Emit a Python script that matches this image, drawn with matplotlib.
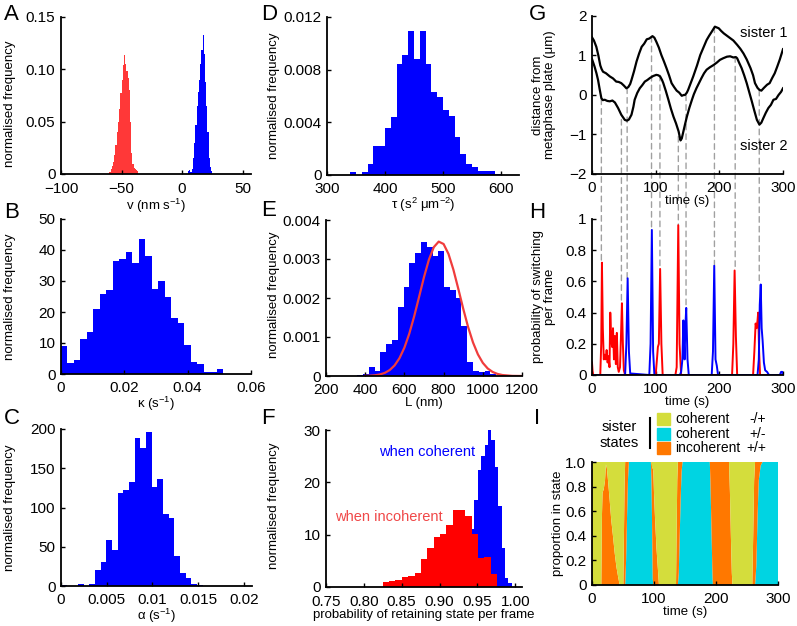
import numpy as np
import matplotlib
matplotlib.use("Agg")
import matplotlib.pyplot as plt
from matplotlib.patches import Rectangle, ConnectionPatch
from matplotlib.lines import Line2D

plt.rcParams["font.family"] = "Liberation Sans"
plt.rcParams["mathtext.fontset"] = "custom"
plt.rcParams["mathtext.rm"] = "Liberation Sans"
plt.rcParams["mathtext.it"] = "Liberation Sans:italic"
plt.rcParams["axes.linewidth"] = 1.3

# ---------------- data ----------------
# A: velocity histograms (bin width 1 nm/s)
v_red_start = -60
v_red = [0.002, 0.005, 0.008, 0.011, 0.018, 0.028, 0.04, 0.05, 0.062, 0.077, 0.09, 0.104,
         0.114, 0.105, 0.098, 0.092, 0.08, 0.05, 0.02, 0.01, 0.006, 0.005, 0.004, 0.003]
v_blue_start = 5
v_blue = [0.003, 0.004, 0.002, 0.005, 0.015, 0.03, 0.047, 0.065, 0.078, 0.09, 0.105, 0.118,
          0.133, 0.115, 0.088, 0.065, 0.04, 0.015, 0.007, 0.003]
v_bin = 1.0

# B: kappa
kappa_bin = 0.00205
kappa = [9, 3.5, 4.6, 11.3, 13.5, 21, 25.8, 27, 36.5, 37, 39.3, 35.7, 43.5, 38, 27.4, 30,
         24.7, 18, 16.4, 9.4, 4, 3.2, 0.6, 0.6, 1.7]

# C: alpha
alpha_bin = 0.00062
alpha = [1, 0, 0.5, 3, 0.5, 2, 21, 31, 59, 46, 118, 122, 132, 189, 176, 196, 126, 136, 92, 87,
         38, 17, 10, 3, 1]

# D: tau
tau_start = 340
tau_bin = 10
tau = [0.0002, 0, 0.0002, 0.0008, 0.0022, 0.0022, 0.0036, 0.0044, 0.0084, 0.0091, 0.0109,
       0.0088, 0.0109, 0.0084, 0.0063, 0.0059, 0.0049, 0.0045, 0.0029, 0.0016, 0.0008, 0.0006,
       0.0003, 0.0003, 0.0003, 0.0001]

# E: L histogram + normal fit
L_start = 360
L_bin = 29.5
L_hist = [0.00003, 0.00005, 0.00022, 0.00014, 0.00062, 0.00081, 0.00092, 0.00176, 0.00227,
          0.00289, 0.00316, 0.00344, 0.00332, 0.00308, 0.0032, 0.00227, 0.0022, 0.00199,
          0.00128, 0.00037, 0.00014, 0.00011, 0.00014, 0.00005]
L_fit_x = [400, 425, 450, 475, 500, 525, 550, 575, 600, 625, 650, 675, 700, 725, 750, 775, 800,
           825, 850, 875, 900, 925, 950, 975, 1000, 1025, 1050, 1075, 1100, 1150, 1200]
L_fit_y = [0.000003, 0.000008, 0.0000185, 0.00004, 0.00008, 0.000152, 0.000272, 0.000458,
           0.000727, 0.001087, 0.001532, 0.002031, 0.002536, 0.002983, 0.003304, 0.003446,
           0.003384, 0.00313, 0.002726, 0.002236, 0.001727, 0.001256, 0.00086, 0.000555,
           0.000337, 0.000193, 0.000104, 0.000053, 0.000025, 0.000003, 0.0]

# F: probability of retaining state
inc_start = 0.825
inc_bin = 0.0084
incoherent = [1.0, 1.2, 1.4, 1.9, 2.1, 2.7, 5.3, 7.4, 9.6, 10.2, 11.8, 14.7, 14.7, 13.6, 10.2,
              5.5, 5.8, 2.4]
coh_start = 0.937
coh_bin = 0.0045
coherent = [6, 11, 16.6, 22.4, 25, 27.1, 30, 28, 23, 15.4, 7.4, 1.7, 0.7]

# G: sister trajectories
s1_t = [0, 3, 6.8, 10, 13, 15, 17.3, 22, 28, 33, 38, 42, 46, 50, 54, 57, 60, 62, 66, 70, 74,
        78, 82, 86, 90, 95, 98, 101, 105, 109, 113, 117, 121, 125, 129, 133, 137, 141, 144,
        146, 149, 151, 155, 159, 165, 170, 175, 180, 184, 188, 193, 196, 199, 203, 207, 212,
        217, 222, 228, 233, 238, 243, 249, 253, 256, 260, 263, 266, 270, 275, 279, 283, 287,
        291, 295, 300]
s1_x = [1.46, 1.38, 1.22, 1.0, 0.75, 0.66, 0.59, 0.55, 0.47, 0.42, 0.34, 0.33, 0.30, 0.24,
        0.17, 0.2, 0.28, 0.38, 0.6, 0.85, 1.05, 1.22, 1.3, 1.41, 1.43, 1.49, 1.45, 1.35, 1.2,
        1.01, 0.85, 0.68, 0.5, 0.30, 0.2, 0.11, 0.06, -0.02, 0.0, 0.0, 0.06, 0.13, 0.3, 0.47,
        0.75, 1.01, 1.2, 1.39, 1.5, 1.6, 1.73, 1.71, 1.69, 1.62, 1.56, 1.5, 1.44, 1.38, 1.27,
        1.17, 1.05, 0.9, 0.68, 0.5, 0.3, 0.18, 0.13, 0.11, 0.18, 0.26, 0.3, 0.43, 0.55, 0.72,
        0.9, 1.16]
s2_t = [0, 4, 7, 9.5, 12, 14.7, 17, 20, 24, 28, 32, 36, 41, 46, 51.5, 55, 58, 62, 65, 67, 71,
        75, 79, 83, 87, 91, 96, 101, 104, 107, 110, 112, 116, 120, 124, 128, 132, 136, 139,
        141, 143, 146, 149, 153, 157, 160, 164, 168, 172, 176, 180, 185, 191, 196, 201, 206,
        212, 217, 222, 226, 228, 231, 235, 239, 243, 247, 251, 255, 259, 263, 266, 269, 273,
        277, 281, 285, 289, 293, 297, 300]
s2_x = [0.91, 0.72, 0.55, 0.38, 0.15, -0.08, -0.13, -0.12, -0.15, -0.16, -0.14, -0.19, -0.33,
        -0.5, -0.63, -0.65, -0.62, -0.5, -0.3, -0.12, 0.05, 0.17, 0.25, 0.34, 0.38, 0.43, 0.48,
        0.51, 0.5, 0.47, 0.38, 0.30, 0.1, -0.12, -0.35, -0.55, -0.72, -0.92, -1.15, -1.1,
        -0.96, -0.75, -0.55, -0.32, -0.12, 0.02, 0.17, 0.3, 0.43, 0.55, 0.64, 0.7, 0.76, 0.82,
        0.89, 0.93, 0.97, 0.98, 0.95, 0.96, 0.93, 0.82, 0.68, 0.5, 0.3, 0.07, -0.16, -0.4,
        -0.63, -0.75, -0.7, -0.59, -0.45, -0.33, -0.25, -0.12, -0.1, 0.0, 0.08, 0.17]

# switching events: time, start on trace (G units), end on peak (H units)
sw_t = [14.7, 46.2, 55.2, 93.5, 106.7, 135.6, 147.7, 192.3, 224.9, 262.7]
sw_top = [-0.1, -0.62, 0.18, 1.48, 0.5, -1.05, 0.0, 1.72, 0.97, 0.12]
sw_bot = [0.72, 0.46, 0.62, 0.93, 0.68, 0.96, 0.43, 0.70, 0.67, 0.58]

# H: switching probabilities
red_t = [0, 1, 2, 13, 14.5, 15.6, 17, 18.5, 20, 21.5, 23, 24.5, 26, 27.5, 28.7, 30, 31.5, 33,
         34.5, 36, 37.5, 39, 40.5, 42, 44, 45.5, 47, 48.5, 50, 52, 100, 102, 103.5, 105, 107,
         109, 111, 131, 133, 135.5, 137.5, 140, 220, 222, 224, 226, 228, 253, 255, 257, 258.5,
         260, 261, 262.5, 264, 300]
red_p = [0.08, 0.02, 0, 0, 0.2, 0.72, 0.3, 0.1, 0.13, 0.1, 0.16, 0.08, 0.12, 0.05, 0.4, 0.25,
         0.18, 0.3, 0.1, 0.25, 0.07, 0.27, 0.05, 0.02, 0.05, 0.25, 0.46, 0.2, 0.03, 0, 0, 0.1,
         0.18, 0.2, 0.68, 0.2, 0, 0, 0.05, 0.96, 0.2, 0, 0, 0.2, 0.67, 0.25, 0, 0, 0.15, 0.33,
         0.3, 0.35, 0.4, 0.15, 0, 0]
blue_t = [0, 52, 54, 56, 58, 60, 90, 92, 94, 96, 98, 138, 140, 142, 143.5, 144.5, 145.5, 146.5,
          148, 150, 152, 188, 190, 192, 194, 196, 198, 260, 262, 263.5, 265, 266.5, 268, 270,
          272, 275, 278, 295, 297, 299, 300]
blue_p = [0, 0, 0.2, 0.62, 0.15, 0.01, 0, 0.2, 0.93, 0.15, 0, 0, 0.02, 0.1, 0.35, 0.2, 0.1,
          0.3, 0.43, 0.1, 0, 0, 0.15, 0.7, 0.1, 0.06, 0, 0, 0.1, 0.45, 0.58, 0.3, 0.22, 0.08,
          0.03, 0.02, 0, 0, 0.02, 0.02, 0]

# I: proportion in state
st_t = [0, 15, 16, 17, 19, 21, 22.5, 24, 26, 28.5, 31, 34, 36.6, 39.3, 42, 44.6, 50.5, 51.5,
        52.5, 53.5, 55, 56.5, 58, 59.5, 95, 96, 97, 98, 99, 100, 101.6, 104, 106, 108, 135.5,
        136.5, 137.5, 138.5, 140, 141.5, 143, 144.5, 146, 190, 191, 192.5, 194, 195, 221, 222.5,
        224, 225.5, 226.5, 258.5, 260, 261.5, 263, 265, 267, 269, 272, 275, 300]
st_cyan = [0, 0, 0, 0, 0, 0, 0, 0, 0, 0, 0, 0, 0, 0, 0, 0, 0, 0, 0, 0, 0.2, 0.55, 0.85, 1, 1,
           0.85, 0.45, 0.05, 0, 0, 0, 0, 0, 0, 0, 0, 0, 0, 0.1, 0.4, 0.7, 0.92, 1, 1, 0.85, 0.5,
           0.15, 0, 0, 0, 0, 0, 0, 0, 0, 0, 0, 0.15, 0.55, 0.85, 0.97, 1, 1]
st_orange = [0, 0, 0.55, 0.75, 0.78, 0.85, 0.98, 0.95, 0.84, 0.69, 0.53, 0.39, 0.26, 0.15, 0.07,
             0, 0, 0.4, 0.8, 1, 0.8, 0.45, 0.15, 0, 0, 0.15, 0.5, 0.9, 0.92, 0.75, 0.55, 0.3,
             0.15, 0, 0, 0.45, 0.85, 1, 0.9, 0.6, 0.3, 0.08, 0, 0, 0.15, 0.5, 0.85, 1, 1, 0.75,
             0.4, 0.1, 0, 0, 0.4, 0.85, 1, 0.85, 0.45, 0.15, 0.03, 0, 0]

state_names = ["coherent", "coherent", "incoherent"]
state_signs = ["-/+", "+/-", "+/+"]

# ---------------- figure ----------------
W, H = 797, 626
fig = plt.figure(figsize=(W / 100, H / 100), dpi=100)

BLUE = "#0000FF"
RED = "#FF0000"
YEL = "#D4DD3C"
CYA = "#00D4E2"
ORA = "#FF7800"


def add_ax(l, r, t, b):
    return fig.add_axes([l / W, 1 - b / H, (r - l) / W, (b - t) / H])


def style(ax, xpad=5):
    for s in ["top", "right"]:
        ax.spines[s].set_visible(False)
    ax.tick_params(direction="in", length=3, width=1, labelsize=11)
    ax.tick_params(axis="x", pad=xpad)
    ax.tick_params(axis="y", pad=4)


def letter(x, y, s):
    fig.text(x / W, 1 - y / H, s, fontsize=16, va="center", ha="left")


def edges(start, width, n):
    return start + width * np.arange(n + 1)


LBL = 9.5

# A
axA = add_ax(61, 251, 17, 174)
style(axA, xpad=6)
axA.stairs(v_red, edges(v_red_start, v_bin, len(v_red)), fill=True, color="#FF3838")
axA.stairs(v_blue, edges(v_blue_start, v_bin, len(v_blue)), fill=True, color=BLUE)
axA.set_xlim(-100, 57)
axA.set_ylim(0, 0.15)
axA.set_xticks([-100, -50, 0, 50])
axA.set_yticks([0, 0.05, 0.10, 0.15], ["0", "0.05", "0.10", "0.15"])
axA.set_xlabel(r"v (nm s$^{-1}$)", fontsize=LBL, labelpad=0)
axA.set_ylabel("normalised frequency", fontsize=LBL)
axA.yaxis.set_label_coords(-0.235, 0.45)
letter(4, 15, "A")

# B
axB = add_ax(61, 251, 219, 374)
style(axB)
axB.stairs(kappa, edges(0, kappa_bin, len(kappa)), fill=True, color=BLUE)
axB.set_xlim(0, 0.06)
axB.set_ylim(0, 50)
axB.set_xticks([0, 0.02, 0.04, 0.06], ["0", "0.02", "0.04", "0.06"])
axB.set_yticks([0, 10, 20, 30, 40, 50])
axB.set_xlabel(r"κ (s$^{-1}$)", fontsize=LBL, labelpad=0)
axB.set_ylabel("normalised frequency", fontsize=LBL)
axB.yaxis.set_label_coords(-0.235, 0.5)
letter(4, 213, "B")

# C
axC = add_ax(61, 252, 429, 586)
style(axC)
axC.stairs(alpha, edges(0, alpha_bin, len(alpha)), fill=True, color=BLUE)
axC.set_xlim(0, 0.0209)
axC.set_ylim(0, 200)
axC.set_xticks([0, 0.005, 0.01, 0.015, 0.02], ["0", "0.005", "0.01", "0.015", "0.02"])
axC.set_yticks([0, 50, 100, 150, 200])
axC.set_xlabel(r"α (s$^{-1}$)", fontsize=LBL, labelpad=0)
axC.set_ylabel("normalised frequency", fontsize=LBL)
axC.yaxis.set_label_coords(-0.235, 0.5)
letter(4, 419, "C")

# D
axD = add_ax(327, 519, 17, 175)
style(axD)
axD.stairs(tau, edges(tau_start, tau_bin, len(tau)), fill=True, color=BLUE)
axD.set_xlim(300, 631)
axD.set_ylim(0, 0.012)
axD.set_xticks([300, 400, 500, 600])
axD.set_yticks([0, 0.004, 0.008, 0.012], ["0", "0.004", "0.008", "0.012"])
axD.set_xlabel(r"τ (s$^2$ μm$^{-2}$)", fontsize=LBL, labelpad=0)
axD.set_ylabel("normalised frequency", fontsize=LBL)
axD.yaxis.set_label_coords(-0.245, 0.5)
letter(261, 14, "D")

# E
axE = add_ax(326, 522, 220, 376)
style(axE)
axE.stairs(L_hist, edges(L_start, L_bin, len(L_hist)), fill=True, color=BLUE)
axE.plot(L_fit_x, L_fit_y, color="#F03C3C", lw=1.6)
axE.set_xlim(200, 1200)
axE.set_ylim(0, 0.004)
axE.set_xticks([200, 400, 600, 800, 1000, 1200])
axE.set_yticks([0, 0.001, 0.002, 0.003, 0.004], ["0", "0.001", "0.002", "0.003", "0.004"])
axE.set_xlabel("L (nm)", fontsize=LBL, labelpad=0)
axE.set_ylabel("normalised frequency", fontsize=LBL)
axE.yaxis.set_label_coords(-0.235, 0.52)
letter(261, 211, "E")

# F
axF = add_ax(326, 522, 430, 587)
style(axF, xpad=6)
axF.stairs(coherent, edges(coh_start, coh_bin, len(coherent)), fill=True, color=BLUE)
axF.stairs(incoherent, edges(inc_start, inc_bin, len(incoherent)), fill=True, color=RED)
axF.set_xlim(0.75, 1.009)
axF.set_ylim(0, 30)
axF.set_xticks([0.75, 0.80, 0.85, 0.90, 0.95, 1.00],
               ["0.75", "0.80", "0.85", "0.90", "0.95", "1.00"])
axF.set_yticks([0, 10, 20, 30])
axF.set_xlabel("probability of retaining state per frame", fontsize=LBL, labelpad=0)
axF.set_ylabel("normalised frequency", fontsize=LBL)
axF.yaxis.set_label_coords(-0.235, 0.52)
fig.text(427 / W, 1 - 452 / H, "when coherent", color=BLUE, fontsize=10.5, ha="center", va="center")
fig.text(389 / W, 1 - 517 / H, "when incoherent", color="#F04848", fontsize=10.5, ha="center",
         va="center")
letter(261, 419, "F")

# G
axG = add_ax(592, 783, 16, 174)
style(axG)
axG.patch.set_alpha(0)
axG.plot(s1_t, s1_x, color="black", lw=1.6)
axG.plot(s2_t, s2_x, color="black", lw=1.6)
axG.set_xlim(0, 300)
axG.set_ylim(-2, 2)
axG.set_xticks([0, 100, 200, 300])
axG.set_yticks([-2, -1, 0, 1, 2])
axG.set_xlabel("time (s)", fontsize=LBL, labelpad=0)
axG.set_ylabel("distance from\nmetaphase plate (μm)", fontsize=LBL, linespacing=1.0)
axG.yaxis.set_label_coords(-0.19, 0.5)
fig.text(740 / W, 1 - 33 / H, "sister 1", fontsize=10.5, ha="left", va="center")
fig.text(740 / W, 1 - 146 / H, "sister 2", fontsize=10.5, ha="left", va="center")
letter(529, 14, "G")

# H
axH = add_ax(592, 783, 219, 375)
style(axH)
axH.patch.set_alpha(0)
axH.plot(red_t, red_p, color=RED, lw=1.4)
axH.plot(blue_t, blue_p, color=BLUE, lw=1.4)
axH.set_xlim(0, 300)
axH.set_ylim(0, 1)
axH.set_xticks([0, 100, 200, 300])
axH.set_yticks([0, 0.2, 0.4, 0.6, 0.8, 1], ["0", "0.2", "0.4", "0.6", "0.8", "1"])
axH.set_xlabel("time (s)", fontsize=LBL, labelpad=0)
axH.set_ylabel("probability of switching\nper frame", fontsize=LBL, linespacing=1.0)
axH.yaxis.set_label_coords(-0.19, 0.5)
letter(529, 212, "H")

for t, a, b in zip(sw_t, sw_top, sw_bot):
    con = ConnectionPatch(xyA=(t, a), coordsA=axG.transData, xyB=(t, b), coordsB=axH.transData,
                          color="#A0A0A0", lw=1.0, linestyle=(0, (4, 3)), zorder=-1)
    fig.add_artist(con)

# I
axI = add_ax(592, 778, 462, 585)
style(axI)
st_cyan_a = np.array(st_cyan)
st_orange_a = np.array(st_orange)
st_yellow = 1 - st_cyan_a - st_orange_a
axI.stackplot(st_t, st_cyan_a, st_orange_a, st_yellow, colors=[CYA, ORA, YEL], lw=0)
axI.set_xlim(0, 300)
axI.set_ylim(0, 1)
axI.set_xticks([0, 100, 200, 300])
axI.set_yticks([0, 0.2, 0.4, 0.6, 0.8, 1.0], ["0", "0.2", "0.4", "0.6", "0.8", "1.0"])
axI.set_xlabel("time (s)", fontsize=LBL, labelpad=0)
axI.set_ylabel("proportion in state", fontsize=LBL)
axI.yaxis.set_label_coords(-0.15, 0.5)
letter(534, 419, "I")

# legend for I
fig.text(619 / W, 1 - 427 / H, "sister", fontsize=10.5, ha="center", va="center")
fig.text(619 / W, 1 - 443 / H, "states", fontsize=10.5, ha="center", va="center")
fig.add_artist(Line2D([650 / W, 650 / W], [1 - 418 / H, 1 - 448 / H], color="black", lw=1.5))
for i, (col, nm, sg) in enumerate(zip([YEL, CYA, ORA], state_names, state_signs)):
    yc = 419 + 14.5 * i
    fig.add_artist(Rectangle((657 / W, 1 - (yc + 6) / H), 13 / W, 12 / H, color=col,
                             transform=fig.transFigure))
    fig.text(675 / W, 1 - yc / H, nm, fontsize=10, ha="left", va="center")
    fig.text(766 / W, 1 - yc / H, sg, fontsize=10, ha="right", va="center")

fig.savefig("out.png", dpi=100)
